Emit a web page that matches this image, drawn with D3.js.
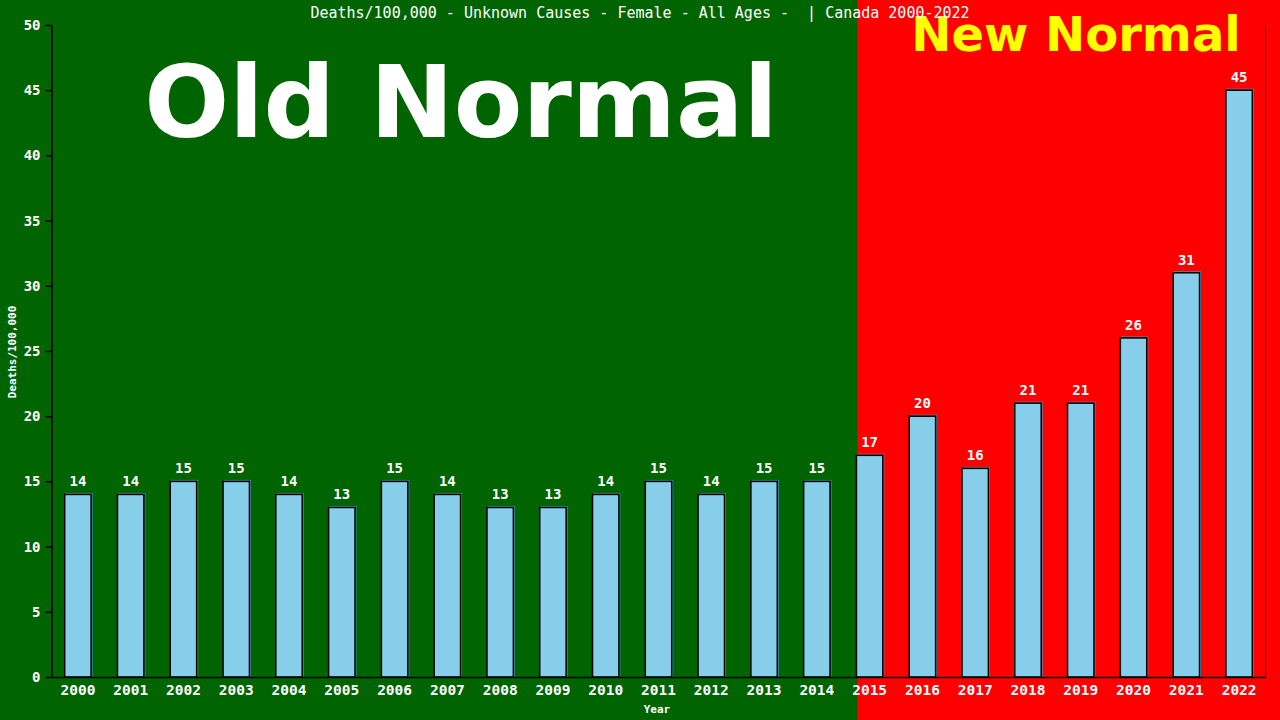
<!DOCTYPE html>
<html><head><meta charset="utf-8">
<script src="https://cdn.jsdelivr.net/npm/d3@7"></script>
<style>html,body{margin:0;padding:0;background:#006400;}svg{display:block;}</style>
</head><body>
<svg id="c" width="1280" height="720"></svg>
<script>
const years = ["2000","2001","2002","2003","2004","2005","2006","2007","2008","2009","2010","2011","2012","2013","2014","2015","2016","2017","2018","2019","2020","2021","2022"];
const deaths = [14,14,15,15,14,13,15,14,13,13,14,15,14,15,15,17,20,16,21,21,26,31,45];
const yTicks = [0,5,10,15,20,25,30,35,40,45,50];
const title = "Deaths/100,000 - Unknown Causes - Female - All Ages -  | Canada 2000-2022";
const splitYear = "2015";

const W = 1280, H = 720;
const m = {l:51.5, r:1265.5, t:25, b:677};
const svg = d3.select("#c");
const mono = "'DejaVu Sans Mono', monospace";

const x = d3.scaleBand().domain(years).range([m.l, m.r]).paddingInner(0.5).paddingOuter(0.25);
const y = d3.scaleLinear().domain([0,50]).range([m.b, m.t]);

const splitX = x(splitYear) + 1;
svg.append("rect").attr("x",0).attr("y",0).attr("width",splitX).attr("height",H).attr("fill","#006400");
svg.append("rect").attr("x",splitX).attr("y",0).attr("width",W-splitX).attr("height",H).attr("fill","#ff0000");

svg.append("text").attr("x",461).attr("y",137).attr("text-anchor","middle")
  .attr("font-family","'DejaVu Sans', sans-serif").attr("font-weight","bold").attr("font-size",100)
  .attr("fill","#ffffff").text("Old Normal");
svg.append("text").attr("x",1076).attr("y",51).attr("text-anchor","middle")
  .attr("font-family","'DejaVu Sans', sans-serif").attr("font-weight","bold").attr("font-size",48)
  .attr("fill","#ffff00").text("New Normal");

svg.append("text").attr("x",640).attr("y",18).attr("text-anchor","middle")
  .attr("font-family",mono).attr("font-size",15).attr("fill","#fff").style("white-space","pre").text(title);

const data = years.map((yr,i)=>({yr, v:deaths[i]}));
const g = svg.append("g");
g.selectAll("rect.sh").data(data).enter().append("rect").attr("class","sh")
  .attr("x", d=>x(d.yr)+1).attr("y", d=>y(d.v)-1)
  .attr("width", x.bandwidth()).attr("height", d=>m.b - y(d.v)+1)
  .attr("fill","none").attr("stroke","#4a8fb8").attr("stroke-width",1);
g.selectAll("rect.bar").data(data).enter().append("rect").attr("class","bar")
  .attr("x", d=>x(d.yr)).attr("y", d=>y(d.v))
  .attr("width", x.bandwidth()).attr("height", d=>m.b - y(d.v))
  .attr("fill","#87ceeb").attr("stroke","#000").attr("stroke-width",1.5);
g.selectAll("text.val").data(data).enter().append("text").attr("class","val")
  .attr("x", d=>x(d.yr)+x.bandwidth()/2).attr("y", d=>y(d.v)-8)
  .attr("text-anchor","middle").attr("font-family",mono).attr("font-weight","bold").attr("font-size",14).attr("fill","#fff")
  .text(d=>d.v);

const ya = svg.append("g").attr("transform",`translate(${m.l},0)`)
  .call(d3.axisLeft(y).tickValues(yTicks).tickSize(6).tickSizeOuter(0).tickPadding(5));
ya.select(".domain").attr("stroke","#000").attr("stroke-width",1.5);
ya.selectAll(".tick line").attr("stroke","#000").attr("stroke-width",1.5);
ya.selectAll(".tick text").attr("fill","#fff").attr("font-family",mono).attr("font-weight","bold").attr("font-size",14);

const xa = svg.append("g").attr("transform",`translate(0,${m.b})`)
  .call(d3.axisBottom(x).tickSize(0).tickSizeOuter(0).tickPadding(8));
xa.select(".domain").attr("stroke","#000").attr("stroke-width",1.5);
xa.selectAll(".tick text").attr("fill","#fff").attr("font-family",mono).attr("font-weight","bold").attr("font-size",14.5);

svg.append("line").attr("x1",m.r).attr("x2",m.r).attr("y1",m.t).attr("y2",m.b).attr("stroke","#000").attr("stroke-width",1);

svg.append("text").attr("x",657).attr("y",713).attr("text-anchor","middle")
  .attr("font-family",mono).attr("font-weight","bold").attr("font-size",11).attr("fill","#fff").text("Year");
svg.append("text").attr("transform","translate(16,352) rotate(-90)").attr("text-anchor","middle")
  .attr("font-family",mono).attr("font-weight","bold").attr("font-size",11).attr("fill","#fff").text("Deaths/100,000");
</script>
</body></html>
